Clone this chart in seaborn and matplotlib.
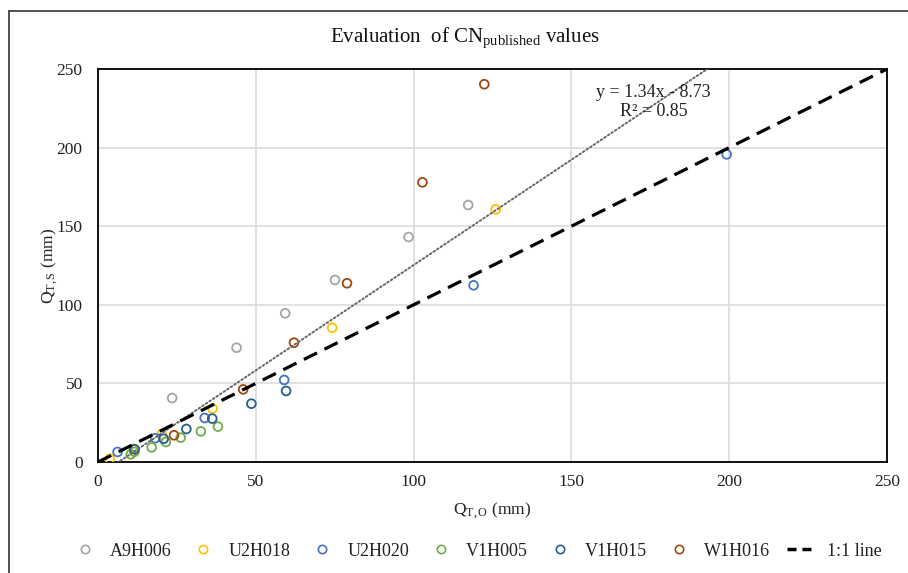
import matplotlib
matplotlib.use("Agg")
import matplotlib.pyplot as plt
from matplotlib.lines import Line2D
import numpy as np
import pandas as pd
import seaborn as sns

# Observed vs. simulated total runoff (mm) per catchment
stations = ["A9H006", "U2H018", "U2H020", "V1H005", "V1H015", "W1H016"]
colors = ["#A5A5A5", "#FFC000", "#4472C4", "#70AD47", "#255E91", "#9E480E"]

a9h006_obs = [23.5, 43.9, 59.3, 75.1, 98.4, 117.3]
a9h006_sim = [40.7, 72.7, 94.6, 115.8, 143.1, 163.5]

u2h018_obs = [3.7, 11.3, 20.2, 36.3, 74.2, 126.0]
u2h018_sim = [2.0, 8.3, 17.5, 34.0, 85.4, 160.7]

u2h020_obs = [6.2, 18.1, 33.8, 59.0, 119.0, 199.2]
u2h020_sim = [6.4, 15.1, 28.0, 52.2, 112.4, 195.7]

v1h005_obs = [10.4, 11.5, 17.0, 21.5, 26.2, 32.6, 38.0]
v1h005_sim = [4.9, 6.5, 9.3, 12.7, 15.5, 19.5, 22.5]

v1h015_obs = [11.6, 20.8, 28.0, 36.2, 48.6, 59.6]
v1h015_sim = [8.1, 14.8, 21.0, 27.6, 37.1, 45.2]

w1h016_obs = [24.1, 46.0, 62.1, 78.9, 102.8, 122.4]
w1h016_sim = [17.0, 46.2, 75.9, 113.7, 177.9, 240.3]

# Linear trendline over all points
slope, intercept, r2 = 1.34, -8.73, 0.85

ticks = [0, 50, 100, 150, 200, 250]

obs = [a9h006_obs, u2h018_obs, u2h020_obs, v1h005_obs, v1h015_obs, w1h016_obs]
sim = [a9h006_sim, u2h018_sim, u2h020_sim, v1h005_sim, v1h015_sim, w1h016_sim]
df = pd.concat(
    [pd.DataFrame({"obs": o, "sim": s, "station": st}) for o, s, st in zip(obs, sim, stations)],
    ignore_index=True,
)

sns.set_theme(style="white")
plt.rcParams["font.family"] = ["Liberation Serif", "DejaVu Serif"]
plt.rcParams["mathtext.fontset"] = "custom"
plt.rcParams["mathtext.rm"] = "Liberation Serif"
plt.rcParams["mathtext.it"] = "Liberation Serif:italic"

fig = plt.figure(figsize=(9.08, 5.73), dpi=100)
ax = fig.add_axes([98 / 908, 1 - 462 / 573, (887 - 98) / 908, (462 - 69) / 573])

for st, c in zip(stations, colors):
    sub = df[df["station"] == st]
    sns.scatterplot(data=sub, x="obs", y="sim", ax=ax, s=40, marker="o",
                    facecolors="none", edgecolor=c, linewidth=1.3, label=st,
                    zorder=3, legend=False)

# trendline
xs = np.array([df["obs"].min(), df["obs"].max()])
ax.plot(xs, slope * xs + intercept, color="#666666", lw=1.4,
        linestyle=(0, (0.9, 1.3)), dash_capstyle="round", zorder=4)

# 1:1 reference line
ax.plot([0, 250], [0, 250], color="black", lw=2.3, linestyle=(0, (4.6, 2.6)),
        zorder=4, label="1:1 line")

ax.set_xlim(0, 250)
ax.set_ylim(0, 250)
ax.set_xticks(ticks)
ax.set_yticks(ticks)
ax.grid(True, color="#D9D9D9", lw=1.1)
ax.set_axisbelow(True)
for sp in ax.spines.values():
    sp.set_color("black")
    sp.set_linewidth(1.3)
ax.tick_params(axis="both", length=0, labelsize=12.5, colors="#222222")
ax.tick_params(axis="x", pad=9)
ax.tick_params(axis="y", pad=11)

ax.set_xlabel(r"$\mathrm{Q_{T,O}}$ (mm)", fontsize=12.5, color="#222222", labelpad=7)
ax.set_ylabel(r"$\mathrm{Q_{T,S}}$ (mm)", fontsize=12.5, color="#222222", labelpad=-2)

ax.text(176, 229, f"y = {slope:.2f}x - {abs(intercept):.2f}\nR² = {r2:.2f}",
        ha="center", va="center", fontsize=13, color="#222222",
        linespacing=1.15, zorder=5)

fig.text(465 / 908, 1 - 38 / 573, r"Evaluation  of CN$_{\mathrm{published}}$ values",
         ha="center", va="center", fontsize=15, color="#111111")

# legend
handles = [Line2D([], [], marker="o", ls="none", markerfacecolor="none",
                  markeredgecolor=c, markersize=6, markeredgewidth=1.2)
           for c in colors]
handles.append(Line2D([], [], color="black", lw=2.5, linestyle=(0, (2.6, 1.7))))
labels = stations + ["1:1 line"]
fig.legend(handles, labels, ncol=7, loc="center", bbox_to_anchor=(476 / 908, 1 - 551 / 573),
           frameon=False, fontsize=13, handlelength=1.6, handletextpad=0.6,
           columnspacing=0.95, labelcolor="#222222")

# chart-area border (top and left)
fig.add_artist(Line2D([9 / 908, 9 / 908], [0, 1 - 11 / 573], color="#333333", lw=1.2,
                      transform=fig.transFigure))
fig.add_artist(Line2D([9 / 908, 1], [1 - 11 / 573, 1 - 11 / 573], color="#333333", lw=1.2,
                      transform=fig.transFigure))

fig.savefig("out.png", dpi=100)
